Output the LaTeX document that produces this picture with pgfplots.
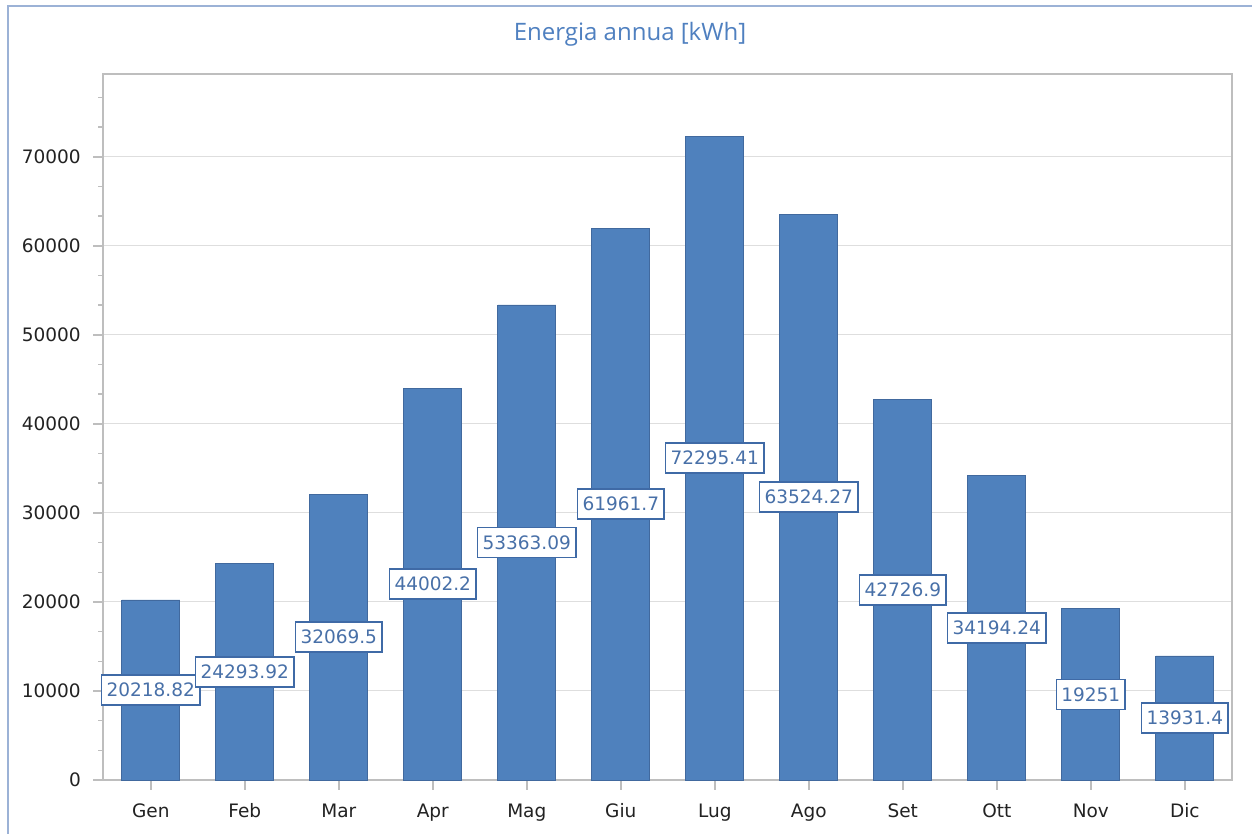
\documentclass[border=0pt]{standalone}
\usepackage{pgfplots}
\pgfplotsset{compat=1.18}
\usepackage{pgfplotstable}
\usepackage{fontspec}
\setmainfont{DejaVu Sans}
\newfontfamily\titlefont{Open Sans}
\definecolor{barblue}{HTML}{4F81BD}
\definecolor{baredge}{HTML}{41699E}
\definecolor{labelborder}{HTML}{3F6AA6}
\definecolor{labeltext}{HTML}{4870A8}
\definecolor{titleblue}{HTML}{4F80C0}
\definecolor{framecol}{HTML}{9CB2D6}
\definecolor{axisgray}{HTML}{BEBEBE}
\definecolor{gridgray}{HTML}{DEDEDE}
\definecolor{ticktext}{HTML}{222222}
\pgfplotstableread{
idx v
0 20218.82
1 24293.92
2 32069.5
3 44002.2
4 53363.09
5 61961.7
6 72295.41
7 63524.27
8 42726.9
9 34194.24
10 19251
11 13931.4
}\data
\begin{document}
\begin{tikzpicture}
\useasboundingbox (0,0) rectangle (1252bp,834bp);
\fill[white] (0,0) rectangle (1252bp,834bp);
\draw[framecol, line width=2bp] (8bp,-5bp) -- (8bp,828bp) -- (1260bp,828bp);
\node[text=titleblue, font=\titlefont\fontsize{24bp}{28bp}\selectfont] at (630bp,800bp) {Energia annua [kWh]};
\begin{axis}[
  at={(103.3bp,54bp)}, anchor=south west,
  scale only axis, width=1129bp, height=706bp,
  xmin=-0.505, xmax=11.505, ymin=0, ymax=79300,
  xtick={0,...,11},
  xticklabels={Gen,Feb,Mar,Apr,Mag,Giu,Lug,Ago,Set,Ott,Nov,Dic},
  ytick={0,10000,...,70000},
  minor ytick={3333.3,6666.7,13333.3,16666.7,23333.3,26666.7,33333.3,36666.7,43333.3,46666.7,53333.3,56666.7,63333.3,66666.7,73333.3,76666.7},
  scaled y ticks=false,
  /pgf/number format/assume math mode=true,
  tick label style={font=\fontsize{18.5bp}{21bp}\selectfont, text=ticktext},
  yticklabel style={xshift=-9bp, /pgf/number format/.cd, fixed, 1000 sep={}},
  xticklabel style={yshift=-10bp},
  axis line style={draw=axisgray, line width=2bp},
  every tick/.style={draw=axisgray, line width=1.5bp},
  major tick length=10bp, minor tick length=5bp,
  tick align=outside, tick pos=left,
  ymajorgrids, grid style={draw=gridgray, line width=1bp},
  clip=false,
]
\addplot[ybar, bar width=58bp, fill=barblue, draw=baredge, line width=0.8bp] table[x=idx, y=v] {\data};
\addplot[draw=none, nodes near coords, point meta=explicit symbolic,
  every node near coord/.append style={anchor=center, fill=white, draw=labelborder, line width=1.5bp, inner xsep=5bp, inner ysep=0pt, minimum height=30bp, text=labeltext, font=\fontsize{18.5bp}{21bp}\selectfont}]
  table[x=idx, y expr=\thisrow{v}/2, meta=v] {\data};
\end{axis}
\end{tikzpicture}
\end{document}
